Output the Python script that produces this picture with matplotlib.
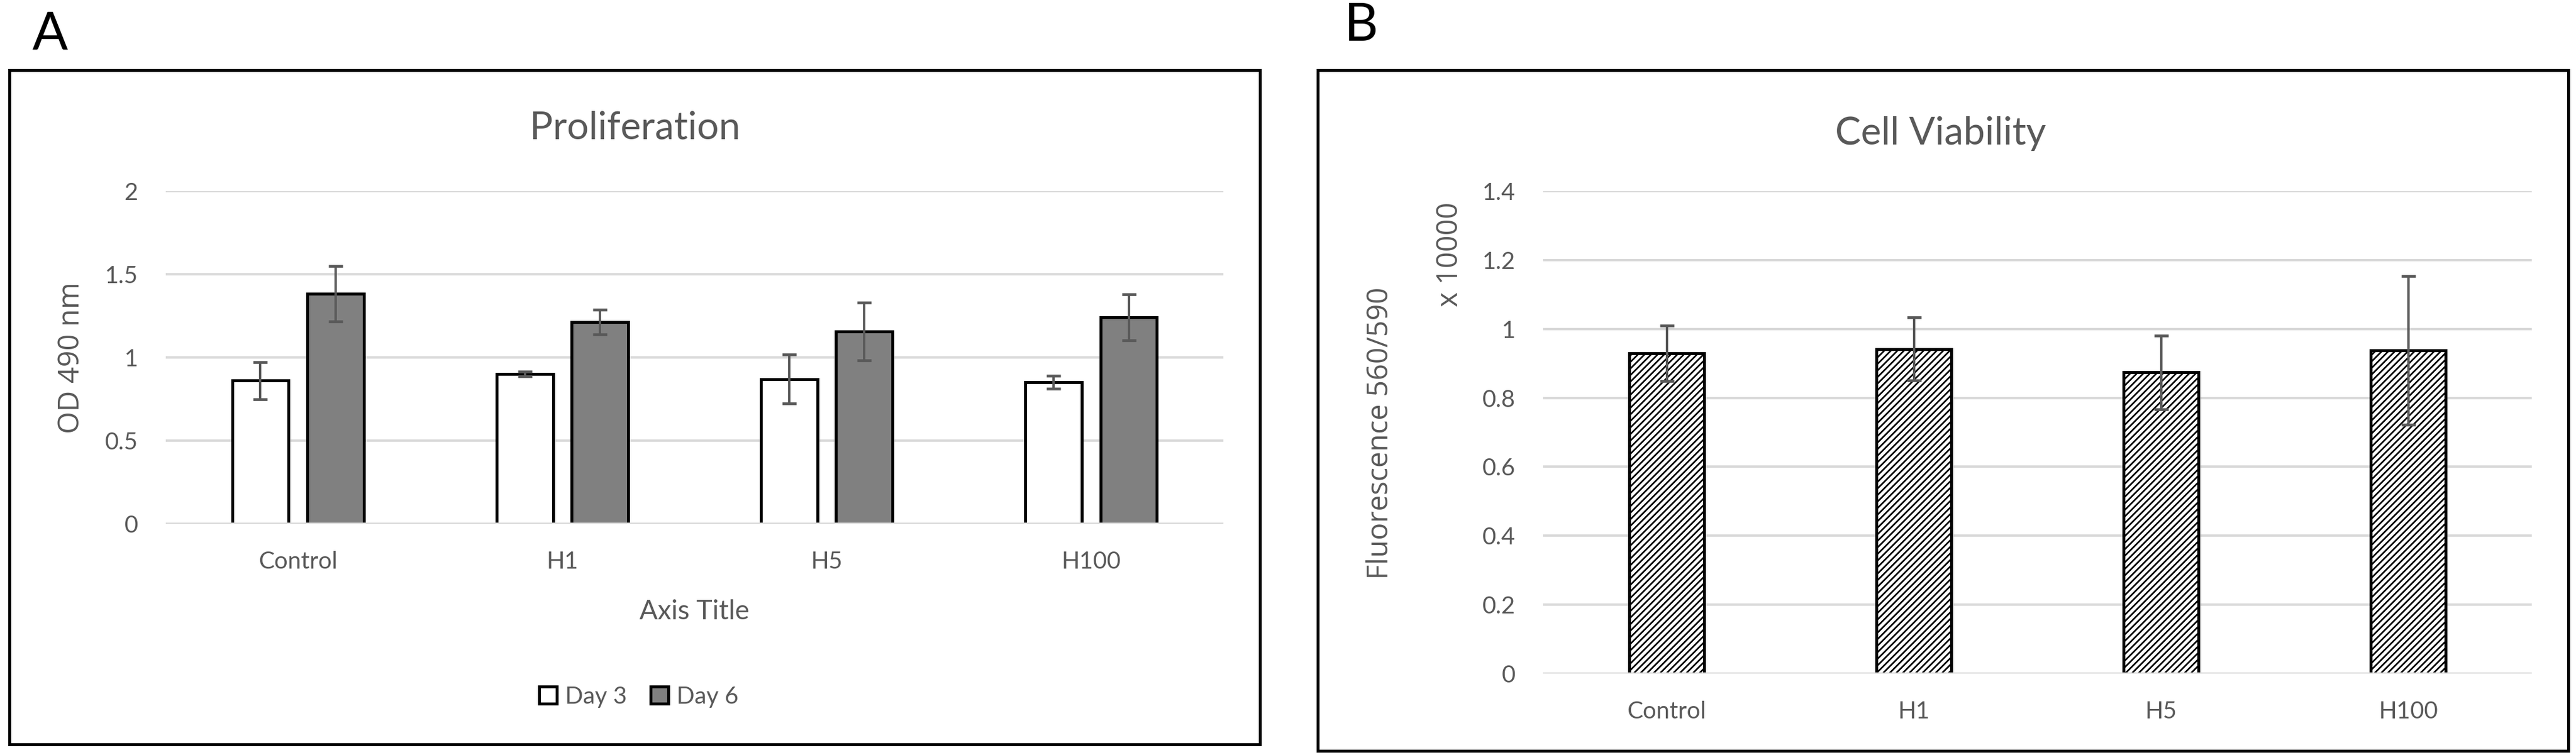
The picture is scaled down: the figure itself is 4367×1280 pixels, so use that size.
import matplotlib
matplotlib.use("Agg")
from matplotlib import pyplot as plt
from matplotlib.patches import Rectangle

plt.rcParams['font.family'] = ['Lato', 'DejaVu Sans']
plt.rcParams['hatch.linewidth'] = 2.0

# data
groups = ['Control', 'H1', 'H5', 'H100']
day3 = [0.86, 0.90, 0.87, 0.85]
day3_err = [0.11, 0.015, 0.148, 0.039]
day6 = [1.384, 1.213, 1.156, 1.242]
day6_err = [0.166, 0.076, 0.175, 0.138]
prolif_ticks = [0, 0.5, 1, 1.5, 2]
prolif_ticklabels = ['0', '0.5', '1', '1.5', '2']

viability = [0.929, 0.942, 0.874, 0.938]
viability_err = [0.08, 0.092, 0.107, 0.216]
viab_ticks = [0, 0.2, 0.4, 0.6, 0.8, 1.0, 1.2, 1.4]
viab_ticklabels = ['0', '0.2', '0.4', '0.6', '0.8', '1', '1.2', '1.4']

W, H = 4367, 1280
DPI = 100
txt = '#595959'
grid_c = '#d9d9d9'


def fx(x):
    return x / W


def fy(y):
    return 1 - y / H


def axes_box(left, right, top, bottom):
    return [fx(left), fy(bottom), (right - left) / W, (bottom - top) / H]


def style_axes(ax, ticks, labels, ylim):
    ax.set_xlim(-0.5, 3.5)
    ax.set_ylim(*ylim)
    for s in ax.spines.values():
        s.set_visible(False)
    ax.set_yticks(ticks)
    ax.set_yticklabels(labels)
    ax.set_xticks(range(len(groups)))
    ax.set_xticklabels(groups)
    ax.tick_params(axis='both', length=0, labelsize=29, labelcolor=txt)
    ax.tick_params(axis='y', pad=34)
    ax.tick_params(axis='x', pad=33)
    ax.yaxis.grid(True, color=grid_c, lw=2.9)
    ax.set_axisbelow(True)
    ax.axhline(0, color=grid_c, lw=2.9, zorder=3)


fig = plt.figure(figsize=(W / DPI, H / DPI), dpi=DPI)

# panel frames
for l, r, t, b in [(16, 2136, 119, 1262), (2234, 4354, 119, 1273)]:
    fig.add_artist(Rectangle((fx(l), fy(b)), (r - l) / W, (b - t) / H,
                             transform=fig.transFigure, fill=False,
                             lw=3.6, ec='black'))

fig.text(fx(55), fy(84), 'A', fontsize=64, color='black', va='baseline', ha='left')
fig.text(fx(2279), fy(69), 'B', fontsize=64, color='black', va='baseline', ha='left')

# A: proliferation
ax1 = fig.add_axes(axes_box(281, 2074, 324, 888))
x = list(range(len(groups)))
off = 0.142
w = 0.214
ax1.bar([i - off for i in x], day3, w, color='white', edgecolor='black',
        lw=3.6, zorder=2, label='Day 3')
ax1.bar([i + off for i in x], day6, w, color='#808080', edgecolor='black',
        lw=3.6, zorder=2, label='Day 6')
ax1.errorbar([i - off for i in x], day3, yerr=day3_err, fmt='none',
             ecolor=txt, elinewidth=2.9, capsize=8.8, capthick=3.4, zorder=4)
ax1.errorbar([i + off for i in x], day6, yerr=day6_err, fmt='none',
             ecolor=txt, elinewidth=2.9, capsize=8.8, capthick=3.4, zorder=4)
style_axes(ax1, prolif_ticks, prolif_ticklabels, (0, 2))

fig.text(fx(1076), fy(235), 'Proliferation', fontsize=47, color=txt,
         ha='center', va='baseline')
fig.text(fx(1177), fy(1050), 'Axis Title', fontsize=33, color=txt,
         ha='center', va='baseline')
fig.text(fx(121), fy(607), 'OD 490 nm', fontsize=35, color=txt,
         rotation=90, ha='center', va='center', family='Open Sans')
leg = ax1.legend(loc='center', bbox_to_anchor=(fx(1083), fy(1181)),
                 bbox_transform=fig.transFigure, ncol=2, frameon=False,
                 fontsize=29, handlelength=0.75, handleheight=0.75,
                 handletextpad=0.35, columnspacing=1.0)
for t in leg.get_texts():
    t.set_color(txt)

# B: cell viability
ax2 = fig.add_axes(axes_box(2616, 4292, 324, 1142))
ax2.bar(x, viability, 0.305, color='white', edgecolor='black', hatch='///',
        lw=3.6, zorder=2)
ax2.errorbar(x, viability, yerr=viability_err, fmt='none', ecolor=txt,
             elinewidth=2.9, capsize=8.8, capthick=3.4, zorder=4)
style_axes(ax2, viab_ticks, viab_ticklabels, (0, 1.4))

fig.text(fx(3290), fy(245), 'Cell Viability', fontsize=47, color=txt,
         ha='center', va='baseline')
fig.text(fx(2340), fy(734), 'Fluorescence 560/590', fontsize=35, color=txt,
         rotation=90, ha='center', va='center', family='Open Sans')
fig.text(fx(2458), fy(343), 'x 10000', fontsize=35, color=txt,
         rotation=90, ha='center', va='top', family='Open Sans')

fig.savefig('out.png', dpi=DPI, facecolor='white')
